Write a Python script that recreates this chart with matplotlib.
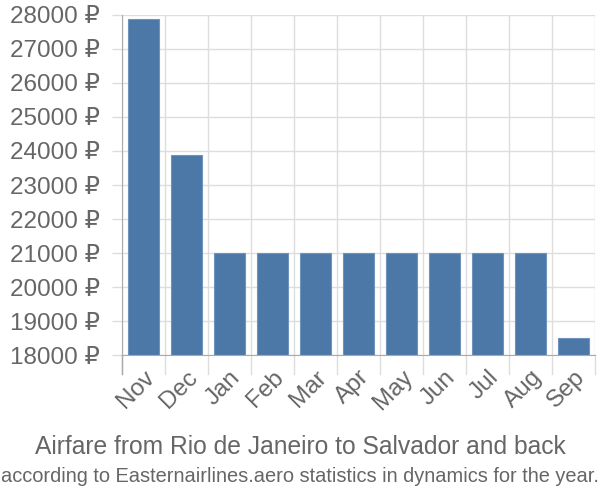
import matplotlib
matplotlib.use("Agg")
import matplotlib.pyplot as plt
import matplotlib.transforms as mtrans
import numpy as np

plt.rcParams['font.family'] = ['Liberation Sans', 'DejaVu Sans']

months = ["Nov", "Dec", "Jan", "Feb", "Mar", "Apr", "May", "Jun", "Jul", "Aug", "Sep"]
prices = [27880, 23880, 21000, 21000, 21000, 21000, 21000, 21000, 21000, 21000, 18500]
yticks = list(range(18000, 28001, 1000))

title1 = "Airfare from Rio de Janeiro to Salvador and back"
title2 = "according to Easternairlines.aero statistics in dynamics for the year."

gray = "#666666"
fig = plt.figure(figsize=(6, 5), dpi=100)
ax = fig.add_axes([122/600, 1-355/500, (595-122)/600, (355-15)/500])

x = np.arange(len(months))
ax.bar(x, prices, width=0.72, bottom=0, color="#4c78a8", edgecolor="#6f93bd", linewidth=0.8, zorder=3)
ax.set_xlim(-0.5, len(months)-0.5)
ax.set_ylim(18000, 28000)

ax.set_yticks(yticks)
ax.set_yticklabels([f"{v} ₽" for v in yticks], fontsize=17.5, color=gray)
ax.set_xticks(x)
ax.set_xticklabels(months, fontsize=17.5, color=gray, rotation=45, ha='right', va='top', rotation_mode='anchor')
offset = mtrans.ScaledTranslation(2/100, 0, fig.dpi_scale_trans)
for lbl in ax.get_xticklabels():
    lbl.set_transform(lbl.get_transform() + offset)
ax.tick_params(axis='x', length=0, pad=8)
ax.tick_params(axis='y', length=7, color="#dddddd", width=1, pad=9)

# grid
for b in np.arange(-0.5, len(months)):
    ax.axvline(b, color="#dddddd", lw=1, zorder=1)
    ax.plot([b, b], [0, -0.055], transform=ax.get_xaxis_transform(), color="#dddddd", lw=1, clip_on=False)
for v in yticks:
    ax.axhline(v, color="#dddddd", lw=1, zorder=1)

for s in ['top', 'right']:
    ax.spines[s].set_visible(False)
ax.spines['left'].set_color("#aaaaaa")
ax.spines['bottom'].set_color("#aaaaaa")
ax.spines['left'].set_zorder(4)
ax.spines['bottom'].set_zorder(4)
ax.plot([-0.5, -0.5], [0, -0.055], transform=ax.get_xaxis_transform(), color="#aaaaaa", lw=1, clip_on=False, zorder=5)

fig.text(0.5, 1-447/500, title1, ha='center', va='center', fontsize=17.7, color=gray)
fig.text(0.5, 1-476/500, title2, ha='center', va='center', fontsize=14.4, color=gray)

fig.savefig("out.png", dpi=100)
